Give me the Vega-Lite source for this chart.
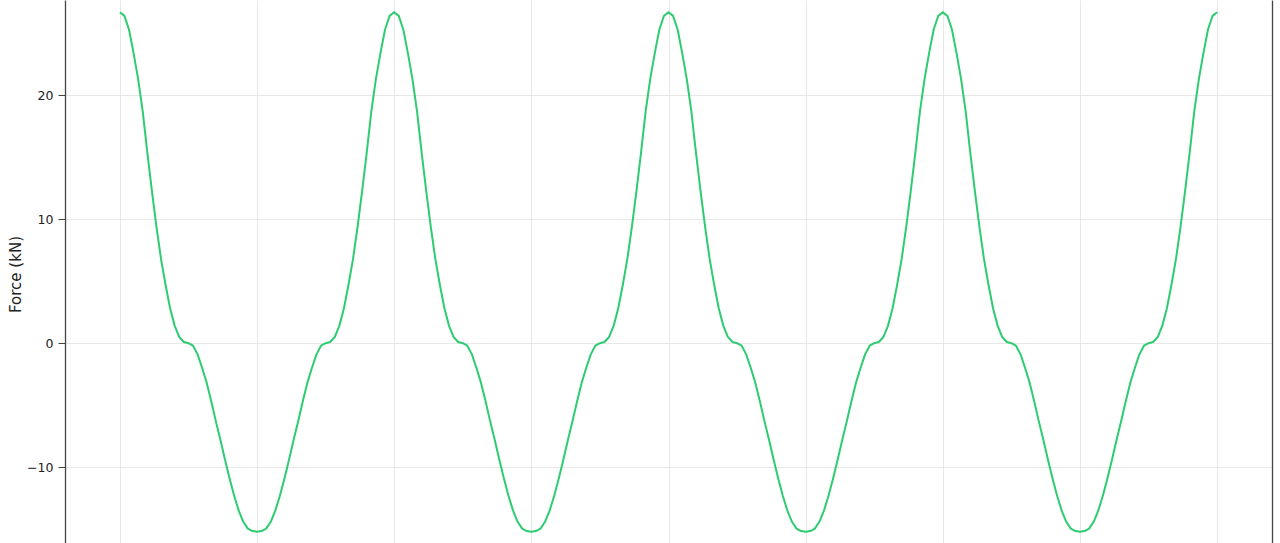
{
 "$schema": "https://vega.github.io/schema/vega-lite/v6.json",
 "width": 1207,
 "height": 543,
 "autosize": {"type": "none"},
 "padding": {"left": 65, "top": 0, "right": 8, "bottom": 0},
 "background": "white",
 "config": {"view": {"stroke": null}, "axis": {"labelFont": "DejaVu Sans", "titleFont": "DejaVu Sans"}},
 "data": {"values": [
  {"angle":0,"force":26.7},{"angle":6,"force":26.4},{"angle":12,"force":25.3},{"angle":18,"force":23.4},{"angle":24,"force":21.3},{"angle":30,"force":18.7},{"angle":36,"force":15.4},{"angle":42,"force":12.3},{"angle":48,"force":9.4},{"angle":54,"force":6.8},{"angle":60,"force":4.7},{"angle":66,"force":2.8},{"angle":72,"force":1.4},{"angle":78,"force":0.5},{"angle":84,"force":0.1},{"angle":90,"force":0},{"angle":96,"force":-0.2},{"angle":102,"force":-0.9},{"angle":108,"force":-2},{"angle":114,"force":-3.2},{"angle":120,"force":-4.7},{"angle":126,"force":-6.3},{"angle":132,"force":-7.8},{"angle":138,"force":-9.4},{"angle":144,"force":-10.9},{"angle":150,"force":-12.3},{"angle":156,"force":-13.5},{"angle":162,"force":-14.4},{"angle":168,"force":-14.95},{"angle":174,"force":-15.15},{"angle":180,"force":-15.2},{"angle":186,"force":-15.15},{"angle":192,"force":-14.95},{"angle":198,"force":-14.4},{"angle":204,"force":-13.5},{"angle":210,"force":-12.3},{"angle":216,"force":-10.9},{"angle":222,"force":-9.4},{"angle":228,"force":-7.8},{"angle":234,"force":-6.3},{"angle":240,"force":-4.7},{"angle":246,"force":-3.2},{"angle":252,"force":-2},{"angle":258,"force":-0.9},{"angle":264,"force":-0.2},{"angle":270,"force":0},{"angle":276,"force":0.1},{"angle":282,"force":0.5},{"angle":288,"force":1.4},{"angle":294,"force":2.8},{"angle":300,"force":4.7},{"angle":306,"force":6.8},{"angle":312,"force":9.4},{"angle":318,"force":12.3},{"angle":324,"force":15.4},{"angle":330,"force":18.7},{"angle":336,"force":21.3},{"angle":342,"force":23.4},{"angle":348,"force":25.3},{"angle":354,"force":26.4},
  {"angle":360,"force":26.7},{"angle":366,"force":26.4},{"angle":372,"force":25.3},{"angle":378,"force":23.4},{"angle":384,"force":21.3},{"angle":390,"force":18.7},{"angle":396,"force":15.4},{"angle":402,"force":12.3},{"angle":408,"force":9.4},{"angle":414,"force":6.8},{"angle":420,"force":4.7},{"angle":426,"force":2.8},{"angle":432,"force":1.4},{"angle":438,"force":0.5},{"angle":444,"force":0.1},{"angle":450,"force":0},{"angle":456,"force":-0.2},{"angle":462,"force":-0.9},{"angle":468,"force":-2},{"angle":474,"force":-3.2},{"angle":480,"force":-4.7},{"angle":486,"force":-6.3},{"angle":492,"force":-7.8},{"angle":498,"force":-9.4},{"angle":504,"force":-10.9},{"angle":510,"force":-12.3},{"angle":516,"force":-13.5},{"angle":522,"force":-14.4},{"angle":528,"force":-14.95},{"angle":534,"force":-15.15},{"angle":540,"force":-15.2},{"angle":546,"force":-15.15},{"angle":552,"force":-14.95},{"angle":558,"force":-14.4},{"angle":564,"force":-13.5},{"angle":570,"force":-12.3},{"angle":576,"force":-10.9},{"angle":582,"force":-9.4},{"angle":588,"force":-7.8},{"angle":594,"force":-6.3},{"angle":600,"force":-4.7},{"angle":606,"force":-3.2},{"angle":612,"force":-2},{"angle":618,"force":-0.9},{"angle":624,"force":-0.2},{"angle":630,"force":0},{"angle":636,"force":0.1},{"angle":642,"force":0.5},{"angle":648,"force":1.4},{"angle":654,"force":2.8},{"angle":660,"force":4.7},{"angle":666,"force":6.8},{"angle":672,"force":9.4},{"angle":678,"force":12.3},{"angle":684,"force":15.4},{"angle":690,"force":18.7},{"angle":696,"force":21.3},{"angle":702,"force":23.4},{"angle":708,"force":25.3},{"angle":714,"force":26.4},
  {"angle":720,"force":26.7},{"angle":726,"force":26.4},{"angle":732,"force":25.3},{"angle":738,"force":23.4},{"angle":744,"force":21.3},{"angle":750,"force":18.7},{"angle":756,"force":15.4},{"angle":762,"force":12.3},{"angle":768,"force":9.4},{"angle":774,"force":6.8},{"angle":780,"force":4.7},{"angle":786,"force":2.8},{"angle":792,"force":1.4},{"angle":798,"force":0.5},{"angle":804,"force":0.1},{"angle":810,"force":0},{"angle":816,"force":-0.2},{"angle":822,"force":-0.9},{"angle":828,"force":-2},{"angle":834,"force":-3.2},{"angle":840,"force":-4.7},{"angle":846,"force":-6.3},{"angle":852,"force":-7.8},{"angle":858,"force":-9.4},{"angle":864,"force":-10.9},{"angle":870,"force":-12.3},{"angle":876,"force":-13.5},{"angle":882,"force":-14.4},{"angle":888,"force":-14.95},{"angle":894,"force":-15.15},{"angle":900,"force":-15.2},{"angle":906,"force":-15.15},{"angle":912,"force":-14.95},{"angle":918,"force":-14.4},{"angle":924,"force":-13.5},{"angle":930,"force":-12.3},{"angle":936,"force":-10.9},{"angle":942,"force":-9.4},{"angle":948,"force":-7.8},{"angle":954,"force":-6.3},{"angle":960,"force":-4.7},{"angle":966,"force":-3.2},{"angle":972,"force":-2},{"angle":978,"force":-0.9},{"angle":984,"force":-0.2},{"angle":990,"force":0},{"angle":996,"force":0.1},{"angle":1002,"force":0.5},{"angle":1008,"force":1.4},{"angle":1014,"force":2.8},{"angle":1020,"force":4.7},{"angle":1026,"force":6.8},{"angle":1032,"force":9.4},{"angle":1038,"force":12.3},{"angle":1044,"force":15.4},{"angle":1050,"force":18.7},{"angle":1056,"force":21.3},{"angle":1062,"force":23.4},{"angle":1068,"force":25.3},{"angle":1074,"force":26.4},
  {"angle":1080,"force":26.7},{"angle":1086,"force":26.4},{"angle":1092,"force":25.3},{"angle":1098,"force":23.4},{"angle":1104,"force":21.3},{"angle":1110,"force":18.7},{"angle":1116,"force":15.4},{"angle":1122,"force":12.3},{"angle":1128,"force":9.4},{"angle":1134,"force":6.8},{"angle":1140,"force":4.7},{"angle":1146,"force":2.8},{"angle":1152,"force":1.4},{"angle":1158,"force":0.5},{"angle":1164,"force":0.1},{"angle":1170,"force":0},{"angle":1176,"force":-0.2},{"angle":1182,"force":-0.9},{"angle":1188,"force":-2},{"angle":1194,"force":-3.2},{"angle":1200,"force":-4.7},{"angle":1206,"force":-6.3},{"angle":1212,"force":-7.8},{"angle":1218,"force":-9.4},{"angle":1224,"force":-10.9},{"angle":1230,"force":-12.3},{"angle":1236,"force":-13.5},{"angle":1242,"force":-14.4},{"angle":1248,"force":-14.95},{"angle":1254,"force":-15.15},{"angle":1260,"force":-15.2},{"angle":1266,"force":-15.15},{"angle":1272,"force":-14.95},{"angle":1278,"force":-14.4},{"angle":1284,"force":-13.5},{"angle":1290,"force":-12.3},{"angle":1296,"force":-10.9},{"angle":1302,"force":-9.4},{"angle":1308,"force":-7.8},{"angle":1314,"force":-6.3},{"angle":1320,"force":-4.7},{"angle":1326,"force":-3.2},{"angle":1332,"force":-2},{"angle":1338,"force":-0.9},{"angle":1344,"force":-0.2},{"angle":1350,"force":0},{"angle":1356,"force":0.1},{"angle":1362,"force":0.5},{"angle":1368,"force":1.4},{"angle":1374,"force":2.8},{"angle":1380,"force":4.7},{"angle":1386,"force":6.8},{"angle":1392,"force":9.4},{"angle":1398,"force":12.3},{"angle":1404,"force":15.4},{"angle":1410,"force":18.7},{"angle":1416,"force":21.3},{"angle":1422,"force":23.4},{"angle":1428,"force":25.3},{"angle":1434,"force":26.4},{"angle":1440,"force":26.7}
 ]},
 "layer": [
  {
   "mark": {"type": "line", "color": "#2ecc71", "strokeWidth": 2, "strokeJoin": "round", "clip": true},
   "encoding": {
    "x": {"field": "angle", "type": "quantitative", "scale": {"domain": [-72, 1512], "nice": false, "zero": false},
          "axis": {"values": [0, 180, 360, 540, 720, 900, 1080, 1260, 1440], "labels": false, "ticks": false, "domain": false, "grid": true, "gridColor": "#e4e4e4", "gridWidth": 0.9, "title": null}},
    "y": {"field": "force", "type": "quantitative", "scale": {"domain": [-16.11, 27.68], "nice": false, "zero": false},
          "axis": {"values": [-10, 0, 10, 20], "grid": true, "gridColor": "#e4e4e4", "gridWidth": 0.9, "domain": true, "domainColor": "#444444", "domainWidth": 1.3, "ticks": true, "tickSize": 7, "tickColor": "#444444", "tickWidth": 1, "labelPadding": 5, "labelFontSize": 12.5, "labelColor": "#222222", "title": "Force (kN)", "titleFontSize": 15, "titleFontWeight": "normal", "titleColor": "#222222", "titleX": -50, "titleY": 274, "titleBaseline": "middle", "titleAngle": -90, "titleAlign": "center"}}
   }
  },
  {
   "mark": {"type": "line", "opacity": 0},
   "encoding": {
    "x": {"field": "angle", "type": "quantitative"},
    "y": {"field": "force", "type": "quantitative", "scale": {"domain": [-16.11, 27.68], "nice": false, "zero": false},
          "axis": {"orient": "right", "labels": false, "ticks": false, "grid": false, "domain": true, "domainColor": "#444444", "domainWidth": 1.3, "title": null}}
   }
  }
 ],
 "resolve": {"scale": {"y": "independent"}}
}
